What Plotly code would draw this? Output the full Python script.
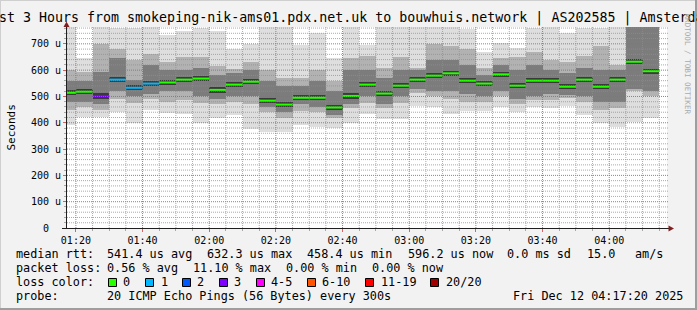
import plotly.graph_objects as go
import pandas as pd

# ---------------- data ----------------
end_times = pd.date_range("2025-12-12 01:20", "2025-12-12 04:15", freq="5min")  # 36 samples
median_us = [514, 518, 502, 564, 533, 549, 553, 564, 568, 525, 545, 556, 484, 469, 495, 495, 458, 502,
             545, 511, 541, 564, 579, 588, 560, 549, 584, 541, 560, 560, 537, 564, 537, 564, 632, 596]
loss_pings = [0, 0, 3, 1, 1, 1, 0, 0, 0, 0, 0, 0, 0, 0, 0, 0, 0, 0,
              0, 0, 0, 0, 0, 0, 0, 0, 0, 0, 0, 0, 0, 0, 0, 0, 0, 0]
smoke_min = [392, 423, 423, 440, 400, 449, 436, 435, 400, 418, 430, 375, 365, 366, 390, 385, 382, 399,
             433, 414, 414, 464, 460, 433, 446, 445, 461, 440, 461, 455, 465, 430, 400, 385, 404, 420]
smoke_q1 = [450, 460, 450, 490, 475, 490, 480, 487, 475, 470, 480, 470, 440, 420, 445, 440, 420, 455,
            474, 455, 475, 515, 500, 490, 480, 480, 500, 470, 487, 487, 495, 480, 450, 455, 520, 500]
smoke_in_lo = [480, 480, 470, 520, 500, 510, 520, 520, 500, 490, 500, 500, 460, 440, 470, 460, 430, 470,
               500, 470, 500, 530, 520, 520, 510, 500, 520, 490, 500, 510, 505, 500, 480, 480, 530, 520]
smoke_in_hi = [560, 560, 594, 645, 563, 620, 600, 600, 610, 580, 590, 600, 560, 540, 540, 560, 520, 600,
               600, 570, 600, 600, 640, 640, 620, 580, 620, 600, 620, 600, 590, 610, 600, 600, 800, 800]
smoke_q3 = [600, 594, 700, 680, 640, 660, 630, 650, 650, 615, 605, 630, 600, 570, 570, 600, 560, 645,
            652, 607, 650, 610, 700, 690, 680, 610, 645, 650, 670, 640, 630, 655, 690, 620, 800, 800]
smoke_max = [800, 645, 800, 760, 760, 770, 735, 747, 760, 750, 680, 700, 800, 800, 696, 740, 645, 800,
             696, 800, 800, 800, 800, 800, 755, 670, 702, 683, 760, 800, 740, 760, 760, 800, 800, 800]

ytick_vals = [0, 100, 200, 300, 400, 500, 600, 700]
ytick_text = ["0\u00a0\u00a0", "100 u", "200 u", "300 u", "400 u", "500 u", "600 u", "700 u"]

loss_legend = [("0", "#26ff00"), ("1", "#00b8ff"), ("2", "#0059ff"), ("3", "#7e00ff"),
               ("4-5", "#ff00ff"), ("6-10", "#ff5500"), ("11-19", "#ff0000"), ("20/20", "#a10000")]
loss_color_of = {0: "#26ff00", 1: "#00b8ff", 2: "#0059ff", 3: "#7e00ff"}

title_text = "Last 3 Hours from smokeping-nik-ams01.pdx.net.uk to bouwhuis.network | AS202585 | Amsterdam"
line1 = [(16, "median rtt:"), (107, "541.4 us avg"), (207, "632.3 us max"), (307, "458.4 us min"),
         (407.5, "596.2 us now"), (507, "0.0 ms sd"), (586.5, "15.0"), (635, "am/s")]
line2 = [(16, "packet loss:"), (107, "0.56 % avg"), (193, "11.10 % max"), (286, "0.00 % min"),
         (372, "0.00 % now")]
line4 = [(16, "probe:"), (107, "20 ICMP Echo Pings (56 Bytes) every 300s"), (513, "Fri Dec 12 04:17:20 2025")]

# ---------------- geometry ----------------
W, H = 697, 310
L, R, T, B = 67, 667, 27, 228
FONT = "DejaVu Sans Mono"


def xp(px):
    return (px - L) / (R - L)


def yp(py):
    return (B - py) / (B - T)


centers = end_times - pd.Timedelta(seconds=150)
BW = 300000

fig = go.Figure()


def band(lo, hi, color):
    fig.add_trace(go.Bar(x=centers, base=lo, y=[h - l for l, h in zip(lo, hi)], width=BW,
                         marker=dict(color=color, line=dict(width=0)), hoverinfo="skip", showlegend=False))


band(smoke_min, smoke_max, "#dedede")
band(smoke_q1, smoke_q3, "#b2b2b2")
band(smoke_in_lo, smoke_in_hi, "#7c7c7c")
band([m - 10 for m in median_us], [m + 10 for m in median_us], "#3a3a3a")

# median segments coloured by loss
for loss, col in loss_color_of.items():
    xs, ys = [], []
    for t, m, lp in zip(end_times, median_us, loss_pings):
        if lp == loss:
            xs += [t - pd.Timedelta(minutes=5), t, None]
            ys += [m, m, None]
    if xs:
        fig.add_trace(go.Scatter(x=xs, y=ys, mode="lines", line=dict(color=col, width=2),
                                 hoverinfo="skip", showlegend=False))

shapes = []
GRID = "rgba(143,143,143,0.75)"
MGRID = "rgba(222,79,79,0.9)"
# grid on top of the smoke (as rrdtool draws it)
for v in range(20, 761, 20):
    shapes.append(dict(type="line", xref="paper", yref="y", x0=0, x1=1.002, y0=v, y1=v,
                       line=dict(color=MGRID if v % 100 == 0 else GRID, width=1, dash="1px,1px"),
                       layer="above"))
for t in pd.date_range("2025-12-12 01:20", "2025-12-12 04:15", freq="5min"):
    major = (t.minute % 20 == 0)
    shapes.append(dict(type="line", xref="x", yref="paper", x0=t, x1=t, y0=0, y1=1,
                       line=dict(color=MGRID if major else GRID, width=1, dash="1px,1px"),
                       layer="above"))

AX = "#1f1f1f"
ARROW = "#801f1f"
# axes lines
shapes.append(dict(type="line", xref="paper", yref="paper", x0=xp(66.5), x1=xp(66.5), y0=yp(228.5), y1=yp(26),
                   line=dict(color=AX, width=1), layer="above"))
shapes.append(dict(type="line", xref="paper", yref="paper", x0=xp(62), x1=xp(669), y0=yp(228.5), y1=yp(228.5),
                   line=dict(color=AX, width=1), layer="above"))
# arrows
shapes.append(dict(type="path", xref="paper", yref="paper",
                   path=f"M {xp(63.5)} {yp(27)} L {xp(69.5)} {yp(27)} L {xp(66.5)} {yp(21.5)} Z",
                   fillcolor=ARROW, line=dict(width=0), layer="above"))
shapes.append(dict(type="path", xref="paper", yref="paper",
                   path=f"M {xp(668.5)} {yp(225.5)} L {xp(668.5)} {yp(231.5)} L {xp(674)} {yp(228.5)} Z",
                   fillcolor=ARROW, line=dict(width=0), layer="above"))
# frame shades
shapes.append(dict(type="line", xref="paper", yref="paper", x0=xp(0.5), x1=xp(0.5), y0=yp(0), y1=yp(310),
                   line=dict(color="#cfcfcf", width=1), layer="above"))
shapes.append(dict(type="line", xref="paper", yref="paper", x0=xp(0), x1=xp(697), y0=yp(0.5), y1=yp(0.5),
                   line=dict(color="#cfcfcf", width=1), layer="above"))
shapes.append(dict(type="line", xref="paper", yref="paper", x0=xp(696), x1=xp(696), y0=yp(0), y1=yp(310),
                   line=dict(color="#9e9e9e", width=2), layer="above"))
shapes.append(dict(type="line", xref="paper", yref="paper", x0=xp(0), x1=xp(697), y0=yp(309), y1=yp(309),
                   line=dict(color="#9e9e9e", width=2), layer="above"))

annotations = []


def txt(px, py, s, size=11.8, anchor="left", color="black", angle=0, family=FONT):
    annotations.append(dict(xref="paper", yref="paper", x=xp(px), y=yp(py), text=s, showarrow=False,
                            xanchor=anchor, yanchor="middle", textangle=angle,
                            font=dict(family=family, size=size, color=color), borderpad=0))


txt(347, 18.5, title_text, size=13.3, anchor="center")
txt(11, 127.5, "Seconds", size=11, anchor="center", angle=-90)
txt(687.5, 64, "RRDTOOL / TOBI OETIKER", size=7.6, anchor="center", angle=90, color="#aaaaaa")
for x, s in line1:
    txt(x - 1, 254, s)
for x, s in line2:
    txt(x - 1, 268, s)
txt(15, 282, "loss color:")
box_x = [108.5, 145.5, 182.5, 219.5, 256.5, 307.5, 365.5, 430.5]
lab_x = [123, 160.5, 197, 234, 270.5, 321.5, 380.5, 445.5]
for (lab, col), bx, lx in zip(loss_legend, box_x, lab_x):
    shapes.append(dict(type="rect", xref="paper", yref="paper", x0=xp(bx), x1=xp(bx + 8), y0=yp(278.5),
                       y1=yp(286.5), fillcolor=col, line=dict(color="black", width=1), layer="above"))
    txt(lx - 1, 282, lab)
for x, s in line4:
    txt(x - 1, 296, s)

fig.update_layout(
    width=W, height=H, margin=dict(l=L, r=W - R, t=T, b=H - B, pad=0),
    paper_bgcolor="#f2f2f2", plot_bgcolor="#ffffff",
    barmode="overlay", bargap=0, showlegend=False,
    shapes=shapes, annotations=annotations,
    xaxis=dict(type="date", range=["2025-12-12 01:17:20", "2025-12-12 04:17:20"],
               tick0="2025-12-12 00:00", dtick=1200000, tickformat="%H:%M",
               showgrid=False, zeroline=False, showline=False,
               ticks="outside", ticklen=3, tickcolor=MGRID, tickwidth=1,
               minor=dict(dtick=300000, ticks="outside", ticklen=2, tickcolor=GRID, showgrid=False),
               tickfont=dict(family=FONT, size=10, color="black"), fixedrange=True),
    yaxis=dict(range=[0, 764], tickvals=ytick_vals, ticktext=ytick_text,
               showgrid=False, zeroline=False, showline=False,
               ticks="outside", ticklen=3, tickcolor=MGRID, tickwidth=1,
               minor=dict(dtick=20, ticks="outside", ticklen=2, tickcolor=GRID, showgrid=False),
               tickfont=dict(family=FONT, size=10, color="black"), fixedrange=True),
)

fig.write_html("out.html", config={"displayModeBar": False})
